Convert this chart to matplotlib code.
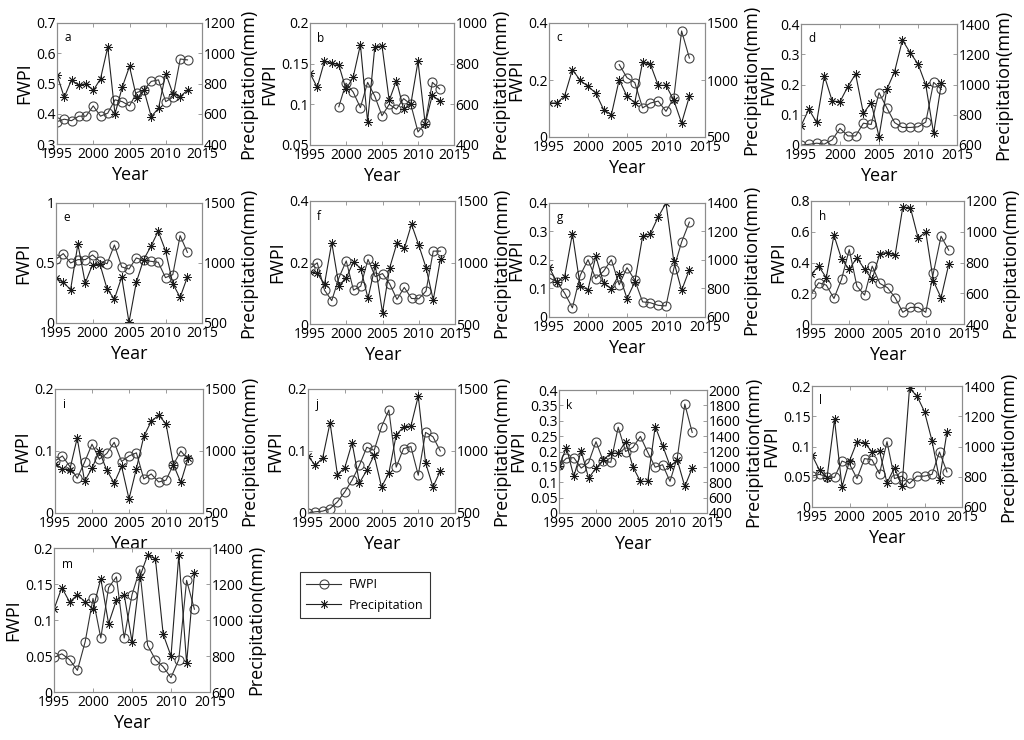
import numpy as np
import matplotlib
matplotlib.use("Agg")
import matplotlib.pyplot as plt
from matplotlib.ticker import FormatStrFormatter, FuncFormatter

plt.rcParams["font.family"] = ["Open Sans", "DejaVu Sans"]

nan = np.nan
years = list(range(1995, 2014))

# --- FWPI (circles, left axis) and precipitation in mm (stars, right axis) ---
fwpi_a = [0.374, 0.382, 0.377, 0.392, 0.392, 0.426, 0.392, 0.402, 0.446, 0.440,
          0.426, 0.470, 0.479, 0.507, 0.512, 0.440, 0.455, 0.581, 0.578]
precip_a = [857, 709, 824, 787, 800, 754, 831, 1041, 599, 776,
            913, 703, 754, 581, 636, 866, 731, 714, 756]

fwpi_b = [nan, nan, nan, nan, 0.097, 0.126, 0.115, 0.096, 0.127, 0.110,
          0.086, 0.100, 0.094, 0.107, 0.100, 0.066, 0.077, 0.127, 0.119]
precip_b = [753, 684, 811, 803, 794, 674, 734, 893, 515, 882,
            888, 619, 717, 577, 600, 811, 504, 647, 614]

fwpi_c = [nan, nan, nan, nan, nan, nan, nan, nan, nan, 0.254,
          0.208, 0.191, 0.102, 0.119, 0.126, 0.090, 0.137, 0.372, 0.277]
precip_c = [798, 798, 860, 1091, 997, 944, 886, 740, 696, 1003,
            857, 801, 1158, 1137, 953, 953, 822, 623, 857]

fwpi_d = [0.000, 0.002, 0.006, 0.003, 0.017, 0.055, 0.030, 0.030, 0.072, 0.068,
          0.173, 0.123, 0.074, 0.058, 0.058, 0.060, 0.076, 0.207, 0.184]
precip_d = [726, 836, 750, 1056, 891, 886, 986, 1069, 809, 880,
            655, 968, 1085, 1294, 1210, 1136, 997, 677, 1008]

fwpi_e = [0.533, 0.578, 0.500, 0.528, 0.528, 0.567, 0.514, 0.494, 0.650, 0.467,
          0.450, 0.542, 0.522, 0.514, 0.506, 0.378, 0.403, 0.728, 0.589]
precip_e = [872, 839, 778, 1158, 833, 986, 994, 783, 700, 883,
            506, 839, 1028, 1139, 1264, 1103, 828, 714, 883]

fwpi_f = [0.181, 0.199, 0.110, 0.076, 0.151, 0.205, 0.110, 0.123, 0.210, 0.154,
          0.164, 0.130, 0.080, 0.119, 0.083, 0.082, 0.107, 0.237, 0.237]
precip_f = [924, 911, 824, 1162, 808, 876, 1005, 951, 708, 978,
            592, 959, 1159, 1114, 1311, 1141, 959, 695, 1032]

fwpi_g = [0.138, 0.123, 0.084, 0.032, 0.146, 0.201, 0.135, 0.161, 0.201, 0.113,
          0.173, 0.129, 0.053, 0.050, 0.041, 0.039, 0.170, 0.263, 0.333]
precip_g = [951, 846, 881, 1185, 815, 792, 1026, 839, 799, 899,
            729, 846, 1166, 1185, 1302, 1400, 991, 787, 932]

fwpi_h = [0.192, 0.268, 0.253, 0.166, 0.292, 0.484, 0.246, 0.188, 0.376, 0.264,
          0.236, 0.171, 0.076, 0.108, 0.108, 0.076, 0.333, 0.571, 0.480]
precip_h = [722, 776, 701, 977, 822, 755, 832, 755, 692, 858,
            865, 848, 1161, 1155, 960, 999, 679, 571, 787]

fwpi_i = [0.084, 0.092, 0.075, 0.056, 0.082, 0.111, 0.087, 0.096, 0.114, 0.083,
          0.092, 0.097, 0.055, 0.063, 0.050, 0.053, 0.078, 0.100, 0.086]
precip_i = [898, 855, 849, 1105, 755, 863, 997, 844, 742, 876,
            613, 858, 1118, 1239, 1288, 1220, 890, 747, 944]

fwpi_j = [0.000, 0.002, 0.003, 0.007, 0.018, 0.034, 0.053, 0.077, 0.106, 0.101,
          0.139, 0.166, 0.074, 0.104, 0.107, 0.061, 0.130, 0.123, 0.100]
precip_j = [958, 885, 945, 1228, 810, 864, 1066, 743, 845, 966,
            710, 823, 1128, 1195, 1201, 1443, 904, 710, 840]

fwpi_k = [0.155, 0.178, 0.180, 0.146, 0.164, 0.232, 0.168, 0.165, 0.279, 0.200,
          0.214, 0.249, 0.197, 0.149, 0.157, 0.103, 0.182, 0.354, 0.262]
precip_k = [1005, 1252, 876, 1209, 854, 984, 1092, 1178, 1178, 1330,
            997, 811, 811, 1524, 1278, 1014, 1083, 746, 984]

fwpi_l = [0.051, 0.054, 0.050, 0.049, 0.076, 0.071, 0.047, 0.080, 0.078, 0.055,
          0.108, 0.047, 0.051, 0.039, 0.051, 0.051, 0.054, 0.091, 0.058]
precip_l = [943, 843, 794, 1179, 733, 905, 1031, 1024, 965, 971,
            759, 861, 737, 1384, 1334, 1230, 1038, 781, 1097]

fwpi_m = [0.048, 0.053, 0.045, 0.030, 0.070, 0.130, 0.075, 0.145, 0.160, 0.075,
          0.135, 0.170, 0.065, 0.045, 0.035, 0.020, 0.045, 0.155, 0.115]
precip_m = [1060, 1180, 1100, 1140, 1100, 1060, 1230, 980, 1110, 1140,
            880, 1240, 1360, 1340, 920, 800, 1360, 760, 1260]

# panel letter, data, left ticks, right ticks, axes box in pixels (x0, y0, x1, y1)
panels = [
    ("a", fwpi_a, precip_a, np.arange(0.3, 0.71, 0.1), np.arange(400, 1201, 200), (57, 23, 202, 144)),
    ("b", fwpi_b, precip_b, [0.05, 0.1, 0.15, 0.2], np.arange(400, 1001, 200), (310, 23, 454, 145)),
    ("c", fwpi_c, precip_c, [0, 0.2, 0.4], [500, 1000, 1500], (549, 23, 705, 137)),
    ("d", fwpi_d, precip_d, np.arange(0, 0.41, 0.1), np.arange(600, 1401, 200), (801, 24, 957, 145)),
    ("e", fwpi_e, precip_e, [0, 0.5, 1], [500, 1000, 1500], (56, 203, 202, 323)),
    ("f", fwpi_f, precip_f, [0, 0.2, 0.4], [500, 1000, 1500], (310, 201, 455, 324)),
    ("g", fwpi_g, precip_g, np.arange(0, 0.41, 0.1), np.arange(600, 1401, 200), (549, 203, 705, 317)),
    ("h", fwpi_h, precip_h, np.arange(0, 0.81, 0.2), np.arange(400, 1201, 200), (811, 201, 964, 324)),
    ("i", fwpi_i, precip_i, [0, 0.1, 0.2], [500, 1000, 1500], (55, 389, 203, 513)),
    ("j", fwpi_j, precip_j, [0, 0.1, 0.2], [500, 1000, 1500], (308, 389, 455, 513)),
    ("k", fwpi_k, precip_k, np.arange(0, 0.41, 0.05), np.arange(400, 2001, 200), (559, 390, 707, 513)),
    ("l", fwpi_l, precip_l, np.arange(0, 0.21, 0.05), np.arange(600, 1401, 200), (812, 386, 962, 507)),
    ("m", fwpi_m, precip_m, np.arange(0, 0.21, 0.05), np.arange(600, 1401, 200), (54, 548, 210, 692)),
]

W, H = 1024, 740
fig = plt.figure(figsize=(W / 100, H / 100), dpi=100)

spine_col = "#8c8c8c"
line_col = "#222222"
asterisk = (8, 2, 0)  # MATLAB-like '*' marker
fmt = FuncFormatter(lambda v, p: f"{round(v, 4):g}")

for letter, fw, pr, lt, rt, (x0, y0, x1, y1) in panels:
    ax = fig.add_axes([x0 / W, 1 - y1 / H, (x1 - x0) / W, (y1 - y0) / H])
    ax2 = ax.twinx()
    l1, = ax.plot(years, fw, color="#333333", lw=0.8, marker="o", ms=6.5,
                  mfc="none", mec="#444444", mew=0.8, label="FWPI")
    l2, = ax2.plot(years, pr, color=line_col, lw=0.8, marker=asterisk, ms=6,
                   mfc="none", mec="#1a1a1a", mew=0.6, label="Precipitation")
    ax.set_xlim(1995, 2015)
    ax.set_xticks([1995, 2000, 2005, 2010, 2015])
    ax.set_ylim(lt[0], lt[-1])
    ax.set_yticks(lt)
    ax.yaxis.set_major_formatter(fmt)
    ax2.set_ylim(rt[0], rt[-1])
    ax2.set_yticks(rt)
    ax2.yaxis.set_major_formatter(FormatStrFormatter("%d"))
    for a in (ax, ax2):
        for s in a.spines.values():
            s.set_color(spine_col)
            s.set_linewidth(0.8)
        a.tick_params(direction="in", length=3, width=0.6, color=spine_col,
                      labelsize=10, pad=1)
    ax.tick_params(axis="x", top=True, pad=2)
    ax.set_xlabel("Year", fontsize=13, labelpad=3)
    ax.set_ylabel("FWPI", fontsize=13, labelpad=2)
    ax2.set_ylabel("Precipitation(mm)", fontsize=13, labelpad=3)
    ax.text(0.05, 0.93, letter, transform=ax.transAxes, fontsize=8.5,
            ha="left", va="top")

leg = fig.legend([l1, l2], ["FWPI", "Precipitation"],
                 loc="upper left", bbox_to_anchor=(300 / W, 1 - 572 / H),
                 frameon=True, fancybox=False, fontsize=9,
                 handlelength=2.8, handletextpad=0.6, borderpad=0.5,
                 labelspacing=0.6, borderaxespad=0)
leg.get_frame().set_edgecolor("#000000")
leg.get_frame().set_linewidth(0.8)

fig.savefig("out.png", dpi=100)
